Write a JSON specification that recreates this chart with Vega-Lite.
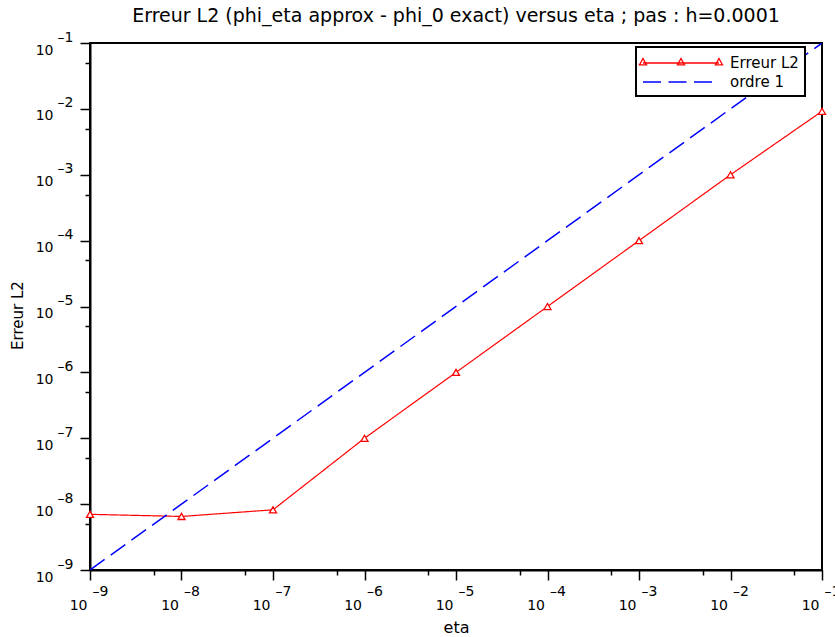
{
  "$schema": "https://vega.github.io/schema/vega-lite/v6.json",
  "width": 732,
  "height": 527,
  "autosize": {"type": "none"},
  "padding": {"left": 90, "top": 43, "right": 13, "bottom": 67},
  "config": {
    "font": "DejaVu Sans",
    "view": {"stroke": "black", "strokeWidth": 2},
    "axis": {"grid": false, "labelColor": "black", "titleColor": "black", "labelOverlap": false, "labelFlush": false, "labelBound": false, "titleFontWeight": "normal"}
  },
  "title": {"text": "Erreur L2 (phi_eta approx - phi_0 exact) versus eta ; pas : h=0.0001", "fontSize": 19, "fontWeight": "normal", "color": "black", "anchor": "middle", "offset": 4, "font": "DejaVu Sans"},
  "data": {
    "values": [
      {"eta": 1e-9, "err": 7.0e-9, "serie": "Erreur L2"},
      {"eta": 1e-8, "err": 6.5e-9, "serie": "Erreur L2"},
      {"eta": 1e-7, "err": 8.2e-9, "serie": "Erreur L2"},
      {"eta": 1e-6, "err": 1e-7, "serie": "Erreur L2"},
      {"eta": 1e-5, "err": 1e-6, "serie": "Erreur L2"},
      {"eta": 1e-4, "err": 1e-5, "serie": "Erreur L2"},
      {"eta": 1e-3, "err": 1e-4, "serie": "Erreur L2"},
      {"eta": 1e-2, "err": 1e-3, "serie": "Erreur L2"},
      {"eta": 1e-1, "err": 9.2e-3, "serie": "Erreur L2"},
      {"eta": 1e-9, "err": 1e-9, "serie": "ordre 1"},
      {"eta": 1e-1, "err": 1e-1, "serie": "ordre 1"}
    ]
  },
  "resolve": {"axis": {"x": "independent", "y": "independent"}},
  "layer": [
    {
      "transform": [{"filter": "datum.serie === 'Erreur L2'"}],
      "mark": {"type": "line", "strokeWidth": 1.2, "clip": true},
      "encoding": {
        "x": {"field": "eta", "type": "quantitative",
          "scale": {"type": "log", "domain": [1e-9, 1e-1], "nice": false, "zero": false},
          "axis": {"orient": "bottom", "title": null, "labels": false, "values": [1e-9, 5e-9, 1e-8, 5e-8, 1e-7, 5e-7, 1e-6, 5e-6, 1e-5, 5e-5, 1e-4, 5e-4, 1e-3, 5e-3, 1e-2, 5e-2, 1e-1],
            "ticks": true, "tickColor": "black", "tickWidth": 1.5,
            "tickSize": {"condition": {"test": "abs(log(datum.value)/LN10 - round(log(datum.value)/LN10)) < 0.01", "value": 10}, "value": 5},
            "domain": true, "domainColor": "black", "domainWidth": 2}},
        "y": {"field": "err", "type": "quantitative",
          "scale": {"type": "log", "domain": [1e-9, 1e-1], "nice": false, "zero": false},
          "axis": {"orient": "left", "title": null, "labels": false, "values": [1e-9, 5e-9, 1e-8, 5e-8, 1e-7, 5e-7, 1e-6, 5e-6, 1e-5, 5e-5, 1e-4, 5e-4, 1e-3, 5e-3, 1e-2, 5e-2, 1e-1],
            "ticks": true, "tickColor": "black", "tickWidth": 1.5,
            "tickSize": {"condition": {"test": "abs(log(datum.value)/LN10 - round(log(datum.value)/LN10)) < 0.01", "value": 10}, "value": 5},
            "domain": true, "domainColor": "black", "domainWidth": 2}},
        "color": {"field": "serie", "type": "nominal",
          "scale": {"domain": ["Erreur L2", "ordre 1"], "range": ["#ff0000", "#0000ff"]},
          "legend": {"title": null, "orient": "none", "legendX": 546, "legendY": 4,
            "strokeColor": "black", "fillColor": "white", "padding": 6, "rowPadding": 1,
            "symbolSize": 324, "symbolStrokeWidth": 1.3, "labelOffset": 68, "labelFontSize": 15, "labelColor": "black", "labelFont": "DejaVu Sans",
            "labelExpr": "datum.label + '\u2003'",
            "encode": {
              "legend": {"update": {"strokeWidth": {"value": 2}}},
              "symbols": {"update": {
              "shape": {"signal": "datum.value === 'Erreur L2' ? 'M-1,0H7.44M-1,-0.5L-0.61,0.2L-1.39,0.2ZM3.22,-0.5L3.61,0.2L2.83,0.2ZM7.44,-0.5L7.83,0.2L7.05,0.2Z' : 'M-1,0H7.44'"},
              "fill": {"value": "white"},
              "fillOpacity": {"value": 1}
            }}}}},
        "strokeDash": {"field": "serie", "type": "nominal",
          "scale": {"domain": ["Erreur L2", "ordre 1"], "range": [[1, 0], [18, 7.5]]}}
      }
    },
    {
      "transform": [{"filter": "datum.serie === 'ordre 1'"}],
      "mark": {"type": "line", "strokeWidth": 1.5, "clip": true},
      "encoding": {
        "x": {"field": "eta", "type": "quantitative",
          "scale": {"type": "log", "domain": [1e-9, 1e-1], "nice": false, "zero": false},
          "axis": {"orient": "bottom", "title": "eta", "titleFontSize": 16, "titlePadding": 7, "values": [1e-9, 1e-8, 1e-7, 1e-6, 1e-5, 1e-4, 1e-3, 1e-2, 1e-1],
            "labelExpr": "'10'", "labelAlign": "right", "labelBaseline": "alphabetic", "labelOffset": -3, "labelPadding": 39, "labelFontSize": 14,
            "ticks": false, "tickSize": 0, "domain": false}},
        "y": {"field": "err", "type": "quantitative",
          "scale": {"type": "log", "domain": [1e-9, 1e-1], "nice": false, "zero": false},
          "axis": {"orient": "left", "title": "Erreur L2", "titleFontSize": 15, "titlePadding": 10, "titleY": 272, "values": [1e-9, 1e-8, 1e-7, 1e-6, 1e-5, 1e-4, 1e-3, 1e-2, 1e-1],
            "labelExpr": "'10'", "labelAlign": "right", "labelBaseline": "alphabetic", "labelOffset": 11, "labelPadding": 37, "labelFontSize": 14,
            "ticks": false, "tickSize": 0, "domain": false}},
        "color": {"field": "serie", "type": "nominal",
          "scale": {"domain": ["Erreur L2", "ordre 1"], "range": ["#ff0000", "#0000ff"]}},
        "strokeDash": {"field": "serie", "type": "nominal",
          "scale": {"domain": ["Erreur L2", "ordre 1"], "range": [[1, 0], [18, 7.5]]}}
      }
    },
    {
      "transform": [{"filter": "datum.serie === 'Erreur L2'"}],
      "mark": {"type": "point", "shape": "triangle-up", "size": 49, "filled": false, "fill": "white", "fillOpacity": 1, "stroke": "#ff0000", "strokeWidth": 1.3, "opacity": 1, "clip": false},
      "encoding": {
        "x": {"field": "eta", "type": "quantitative",
          "scale": {"type": "log", "domain": [1e-9, 1e-1], "nice": false, "zero": false},
          "axis": {"orient": "bottom", "title": null, "values": [1e-9, 1e-8, 1e-7, 1e-6, 1e-5, 1e-4, 1e-3, 1e-2, 1e-1],
            "labelExpr": "'\u2013' + abs(round(log(datum.value)/LN10))", "labelAlign": "left", "labelBaseline": "alphabetic", "labelOffset": 2, "labelPadding": 25, "labelFontSize": 14,
            "ticks": false, "tickSize": 0, "domain": false}},
        "y": {"field": "err", "type": "quantitative",
          "scale": {"type": "log", "domain": [1e-9, 1e-1], "nice": false, "zero": false},
          "axis": {"orient": "left", "title": null, "values": [1e-9, 1e-8, 1e-7, 1e-6, 1e-5, 1e-4, 1e-3, 1e-2, 1e-1],
            "labelExpr": "'\u2013' + abs(round(log(datum.value)/LN10))", "labelAlign": "left", "labelBaseline": "alphabetic", "labelOffset": -2, "labelPadding": 33, "labelFontSize": 14,
            "ticks": false, "tickSize": 0, "domain": false}}
      }
    }
  ]
}
